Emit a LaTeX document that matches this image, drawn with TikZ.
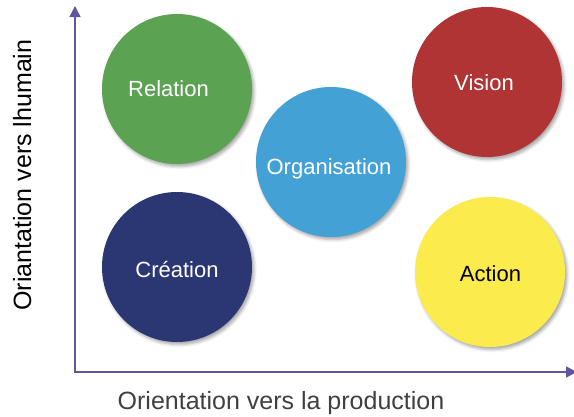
\documentclass[tikz,border=0pt]{standalone}
\usepackage{fontspec}
\setmainfont{Liberation Sans}
\usetikzlibrary{arrows.meta,shadows.blur}

\definecolor{axiscol}{HTML}{5E569E}
\definecolor{relcol}{HTML}{5BA252}
\definecolor{orgcol}{HTML}{43A1D6}
\definecolor{viscol}{HTML}{B03434}
\definecolor{crecol}{HTML}{2A3773}
\definecolor{actcol}{HTML}{FCEB4C}
\definecolor{labcol}{HTML}{404040}

\tikzset{
  bubble/.style={circle, minimum size=150pt, inner sep=0pt,
    blur shadow={shadow xshift=2pt, shadow yshift=-2.5pt,
      shadow blur radius=3pt, shadow opacity=35}},
  bubbletext/.style={anchor=base, font=\fontsize{22}{26}\selectfont, text=white, inner sep=0pt},
  axisline/.style={draw=axiscol, line width=1.5pt, -{Triangle[length=11pt,width=11pt]}},
  axislabel/.style={font=\fontsize{25}{30}\selectfont, inner sep=0pt}
}

\begin{document}
\begin{tikzpicture}[x=1pt, y=-1pt]
  \useasboundingbox (0,0) rectangle (574,416);

  % axes
  \coordinate (origin) at (75,372);
  \coordinate (ytop) at (75,6);
  \coordinate (xend) at (577,372);
  \draw[axisline] ([yshift=-1pt]origin) -- (ytop);
  \draw[axisline] ([xshift=-0.75pt]origin) -- (xend);

  % axis labels
  \node[axislabel, text=labcol, anchor=base] (xlab) at (281,409) {Orientation vers la production};
  \node[axislabel, text=black, rotate=90, anchor=base] (ylab) at (31,175) {Oriantation vers lhumain};

  % bubbles
  \node[bubble, fill=relcol] (relation) at (177,89) {};
  \node[bubble, fill=orgcol] (organisation) at (331,162) {};
  \node[bubble, fill=viscol] (vision) at (487,82) {};
  \node[bubble, fill=crecol] (creation) at (177,267) {};
  \node[bubble, fill=actcol] (action) at (490,272) {};

  % bubble captions
  \node[bubbletext] (relationtxt) at (168.5,96.7) {Relation};
  \node[bubbletext] (organisationtxt) at (329,174.5) {Organisation};
  \node[bubbletext] (visiontxt) at (484,90) {Vision};
  \node[bubbletext] (creationtxt) at (177,277.7) {Création};
  \node[bubbletext, text=black] (actiontxt) at (490.5,281.7) {Action};
\end{tikzpicture}
\end{document}
